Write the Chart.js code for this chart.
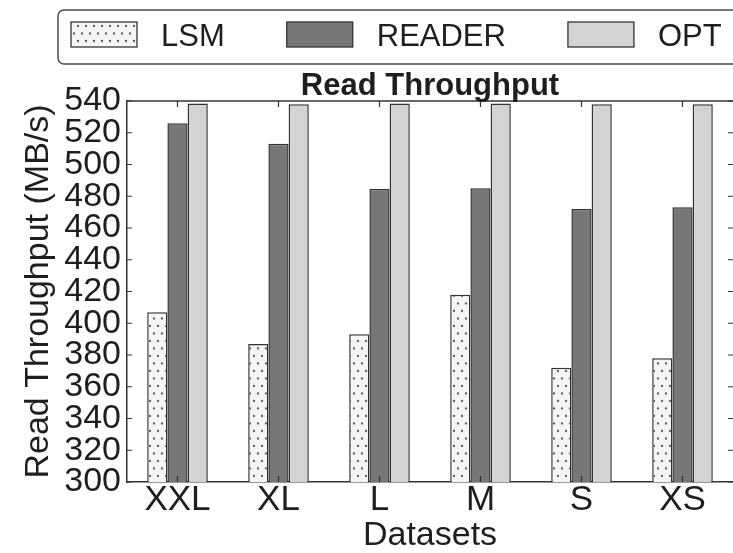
<!DOCTYPE html>
<html>
<head>
<meta charset="utf-8">
<script src="https://cdn.jsdelivr.net/npm/chart.js@4.4.1/dist/chart.umd.min.js"></script>
<style>
  html, body { margin: 0; padding: 0; background: #ffffff; overflow: hidden; }
  canvas { display: block; }
</style>
</head>
<body>
<canvas id="c" width="733" height="553"></canvas>
<script>
// Dataset sizes on the x axis
const categories = ['XXL', 'XL', 'L', 'M', 'S', 'XS'];
// Read throughput in MB/s per approach
const lsm = [407, 387, 393, 418, 372, 378];
const reader = [526, 513, 484.5, 485, 472, 473];
const opt = [538.5, 538, 538.5, 538.5, 538, 538];
const seriesNames = ['LSM', 'READER', 'OPT'];
// Value axis range and step
const yMin = 300;
const yMax = 540;
const yStep = 20;
const chartTitle = 'Read Throughput';
const xTitle = 'Datasets';
const yTitle = 'Read Throughput (MB/s)';

const FONT = '"Liberation Sans", Arial, Helvetica, sans-serif';
const EDGE = '#333333';
const TEXT = '#1e1e1e';

const canvas = document.getElementById('c');
const ctx = canvas.getContext('2d');

// Light fill sprinkled with small dots (staggered rows)
function dotPattern() {
  const t = document.createElement('canvas');
  t.width = 8; t.height = 15;
  const g = t.getContext('2d');
  g.fillStyle = '#f4f5f5';
  g.fillRect(0, 0, 8, 15);
  g.fillStyle = '#5e5e5e';
  [[2, 3.5], [6, 11]].forEach(([x, y]) => {
    g.beginPath(); g.arc(x, y, 1.15, 0, Math.PI * 2); g.fill();
  });
  return ctx.createPattern(t, 'repeat');
}

const fills = [dotPattern(), '#767778', '#d2d3d5'];
const values = [lsm, reader, opt];

function roundRectPath(c, x, y, w, h, r) {
  c.beginPath();
  c.moveTo(x + r, y);
  c.lineTo(x + w - r, y);
  c.arcTo(x + w, y, x + w, y + r, r);
  c.lineTo(x + w, y + h - r);
  c.arcTo(x + w, y + h, x + w - r, y + h, r);
  c.lineTo(x + r, y + h);
  c.arcTo(x, y + h, x, y + h - r, r);
  c.lineTo(x, y + r);
  c.arcTo(x, y, x + r, y, r);
  c.closePath();
}

// Top spine, inward tick marks on all sides, title and framed legend
const framePlugin = {
  id: 'frame',
  afterDraw(chart) {
    const c = chart.ctx;
    const area = chart.chartArea;
    const xs = chart.scales.x;
    const ys = chart.scales.y;
    c.save();

    // top spine
    c.strokeStyle = EDGE;
    c.lineWidth = 1.5;
    c.beginPath();
    c.moveTo(area.left, area.top);
    c.lineTo(area.right, area.top);
    c.stroke();

    // inward ticks
    c.lineWidth = 1.2;
    c.beginPath();
    ys.ticks.forEach(t => {
      const py = ys.getPixelForValue(t.value);
      c.moveTo(area.left, py); c.lineTo(area.left + 5, py);
      c.moveTo(area.right, py); c.lineTo(area.right - 5, py);
    });
    xs.ticks.forEach((t, i) => {
      const px = xs.getPixelForTick(i);
      c.moveTo(px, area.bottom); c.lineTo(px, area.bottom - 6);
      c.moveTo(px, area.top); c.lineTo(px, area.top + 6);
    });
    c.stroke();

    // chart title
    c.fillStyle = TEXT;
    c.font = 'bold 31px ' + FONT;
    c.textAlign = 'center';
    c.textBaseline = 'alphabetic';
    c.fillText(chartTitle, (area.left + area.right) / 2, 95);

    // legend frame
    c.strokeStyle = '#4a4a4a';
    c.lineWidth = 1.5;
    roundRectPath(c, 58, 10, 720, 54, 6);
    c.stroke();

    // legend entries
    c.font = '31px ' + FONT;
    c.textAlign = 'left';
    let x = 71;
    chart.data.datasets.forEach(ds => {
      c.fillStyle = ds.backgroundColor;
      c.fillRect(x, 22, 66, 25);
      c.strokeStyle = EDGE;
      c.lineWidth = 1.3;
      c.strokeRect(x, 22, 66, 25);
      c.fillStyle = TEXT;
      c.fillText(ds.label, x + 90, 45.7);
      x += 90 + c.measureText(ds.label).width + 62;
    });

    c.restore();
  }
};

new Chart(ctx, {
  type: 'bar',
  data: {
    labels: categories,
    datasets: seriesNames.map((name, i) => ({
      label: name,
      data: values[i],
      backgroundColor: fills[i],
      borderColor: EDGE,
      borderWidth: 1.5,
      borderSkipped: false,
      categoryPercentage: 0.6,
      barPercentage: 1.0
    }))
  },
  options: {
    responsive: false,
    animation: false,
    layout: { padding: { top: 101, left: 0, right: 0, bottom: 0 } },
    plugins: {
      legend: { display: false },
      title: { display: false },
      tooltip: { enabled: false }
    },
    scales: {
      x: {
        grid: { display: false, drawTicks: false },
        border: { display: true, color: EDGE, width: 1.5 },
        ticks: { color: TEXT, padding: 1, font: { family: FONT, size: 35, lineHeight: 1 } },
        title: {
          display: true, text: xTitle, color: TEXT,
          font: { family: FONT, size: 34, lineHeight: 1 },
          padding: { top: 0, bottom: 0 }
        },
        afterFit(scale) { scale.height = 71; }
      },
      y: {
        min: yMin,
        max: yMax,
        grid: { display: false, drawTicks: false },
        border: { display: true, color: EDGE, width: 1.5 },
        ticks: {
          stepSize: yStep, autoSkip: false, color: TEXT, padding: 6,
          font: { family: FONT, size: 34, lineHeight: 1 }
        },
        title: {
          display: true, text: yTitle, color: TEXT,
          font: { family: FONT, size: 34, lineHeight: 1 },
          padding: { top: 22, bottom: 0 }
        },
        afterFit(scale) { scale.width = 127; }
      }
    }
  },
  plugins: [framePlugin]
});
</script>
</body>
</html>
